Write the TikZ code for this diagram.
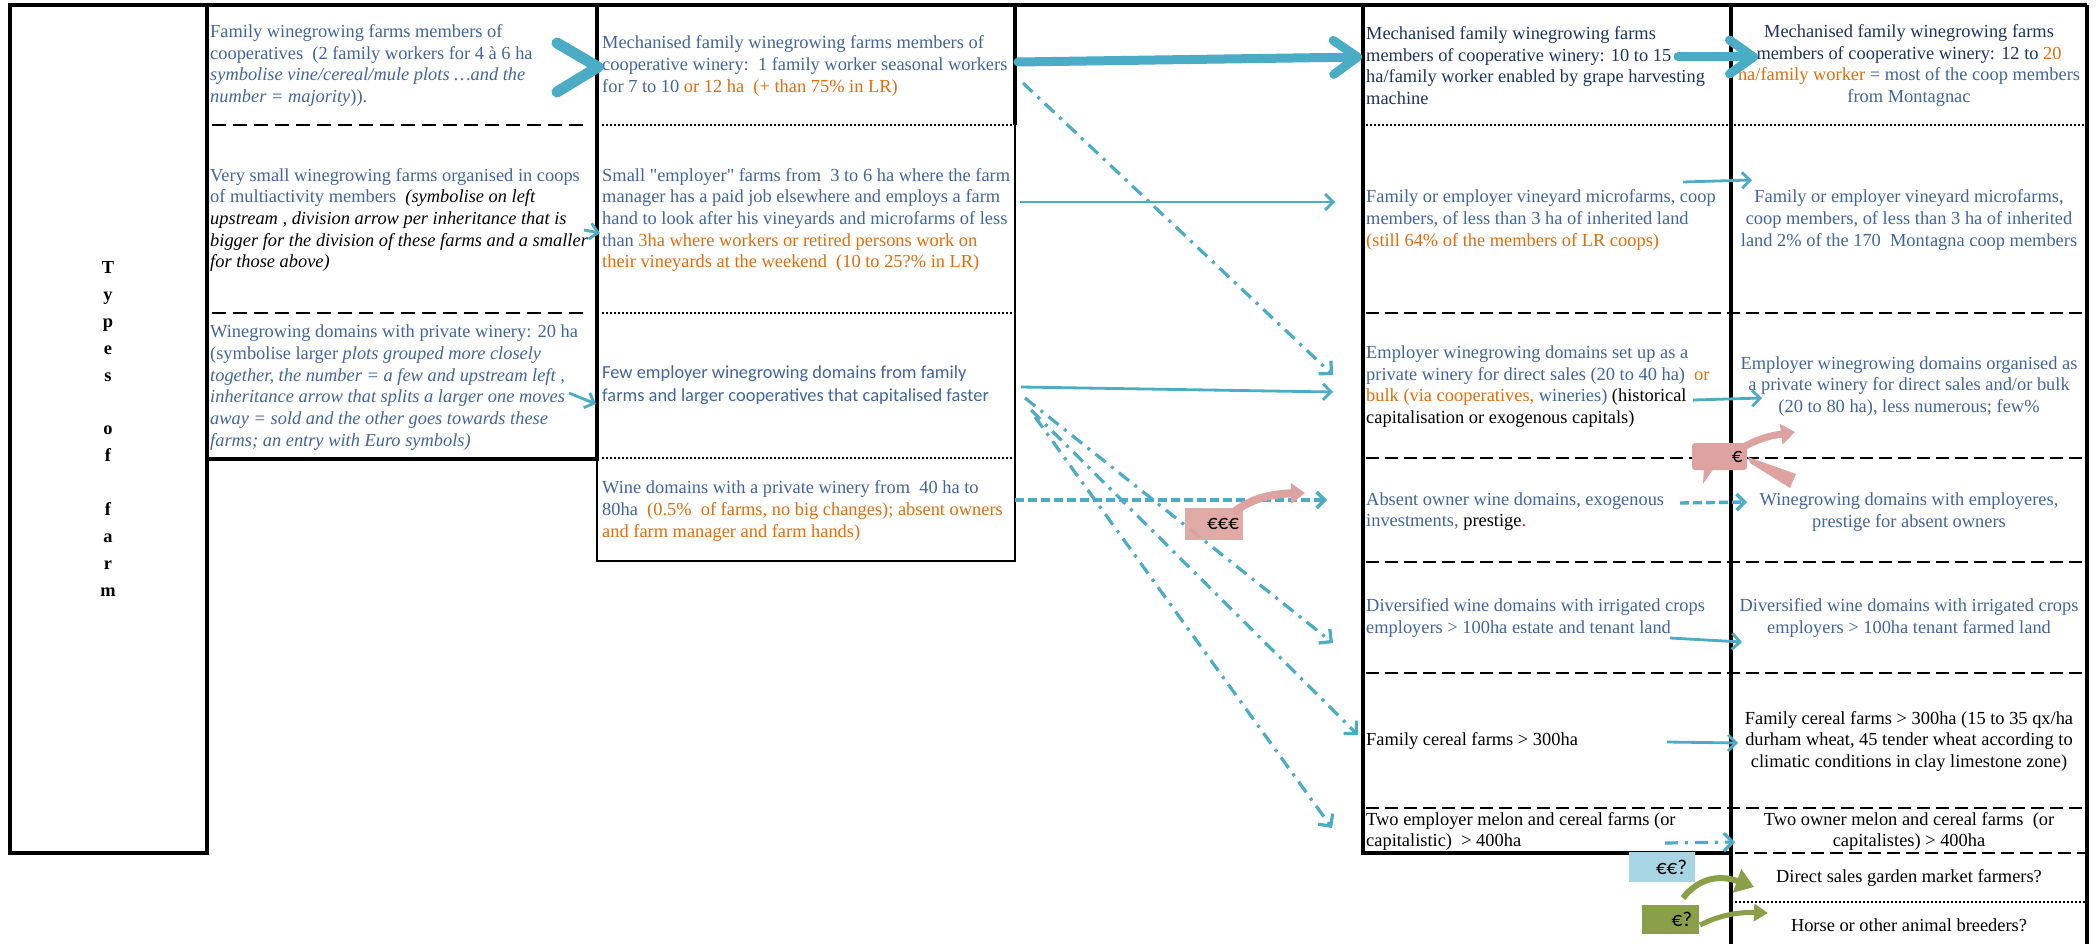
\documentclass[tikz,border=0pt]{standalone}
\usepackage{fontspec}
\setmainfont{Liberation Serif}
\newfontfamily\calib{Carlito}
\usetikzlibrary{arrows.meta}
\definecolor{tblue}{RGB}{66,101,160}
\definecolor{tnavy}{RGB}{30,52,100}
\definecolor{torange}{RGB}{228,108,10}
\definecolor{acyan}{RGB}{75,172,198}
\definecolor{epink}{RGB}{222,163,160}
\definecolor{elblue}{RGB}{168,213,228}
\definecolor{egreen}{RGB}{137,160,72}
\newcommand{\fsz}{\fontsize{18.4}{21.7}\selectfont}
\newcommand{\fsc}{\calib\fontsize{18.4}{23}\selectfont}
\newcommand{\sq}[1]{{\addfontfeature{Ligatures=TeXOff}"#1"}}
\begin{document}
\begin{tikzpicture}[x=1pt,y=-1pt,
  txt/.style={inner sep=0pt, font=\fsz, align=left, anchor=west},
  ctxt/.style={inner sep=0pt, font=\fsz, align=center},
  bordthick/.style={line width=4pt},
  bordthin/.style={line width=1.6pt},
  dashsepA/.style={line width=2.4pt, dash pattern=on 14pt off 7pt},
  dashsepB/.style={line width=2pt, dash pattern=on 13pt off 6pt},
  dotsep/.style={line width=1.6pt, dash pattern=on 1.6pt off 2.4pt},
  bigarrow/.style={acyan, line width=9pt, line cap=round, -{Straight Barb[length=24pt,width=34pt,line cap=round,line join=round]}},
  thinarrow/.style={acyan, line width=2.8pt, -{Straight Barb[length=8pt,width=16pt]}},
  dasharrow/.style={thinarrow, line width=3.4pt, dash pattern=on 9pt off 4pt},
  ddarrow/.style={acyan, line width=3.2pt, dash pattern=on 13pt off 7pt on 3pt off 7pt, -{Straight Barb[length=9pt,width=18pt]}},
  ebox/.style={inner sep=0pt, align=right, font=\calib\fontsize{21}{24}\selectfont},
  ecurve/.style={line width=7pt, -{Triangle[length=14pt,width=20pt]}}
]
\fill[white] (0,0) rectangle (2096,944);
\useasboundingbox (0,0) rectangle (2096,944);

% ---------- frame ----------
\draw[bordthick] (10,5) -- (2087,5);
\draw[bordthick] (10,5) rectangle (207,853);
\draw[bordthick] (597,5) -- (597,459) -- (207,459);
\draw[bordthick] (1015,5) -- (1015,125);
\draw[bordthin] (597,459) -- (597,561) -- (1015,561) -- (1015,125);
\draw[bordthick] (1363,5) -- (1363,853) -- (1731,853);
\draw[bordthick] (1731,5) -- (1731,944);
\draw[bordthick] (2087,5) -- (2087,944);

% ---------- separators ----------
\draw[dashsepA] (212,125) -- (589,125);
\draw[dashsepA] (212,313) -- (589,313);
\foreach \yy in {125,313,458} \draw[dotsep] (602,\yy) -- (1013,\yy);
\draw[dotsep] (1366,125) -- (2085,125);
\foreach \yy in {313,458,562,673,808} \draw[dashsepB] (1366,\yy) -- (2085,\yy);
\draw[dashsepB] (1735,853) -- (2085,853);
\draw[dotsep] (1735,902) -- (2085,902);

% ---------- Types of farm ----------
\foreach \l/\yy [count=\i] in {T/273,y/300,p/327,e/354,s/381,o/434,f/461,f/515,a/542,r/569,m/596}
  \node[font=\fsz\bfseries, anchor=base, inner sep=0pt] (tl\i) at (108,\yy) {\l};

% ---------- column 1 ----------
\node[txt, text=tblue] (c1a) at (210,65.5) {Family winegrowing farms members of\\cooperatives\ \ (2 family workers for 4 à 6 ha\\\textit{symbolise vine/cereal/mule plots …and the}\\\textit{number = majority})).};
\node[txt] (c1b) at (210,220) {\textcolor{tblue}{Very small winegrowing farms organised in coops}\\\textcolor{tblue}{of multiactivity members}\ \ \textit{(symbolise on left}\\\textit{upstream , division arrow per inheritance that is}\\\textit{bigger for the division of these farms and a smaller}\\\textit{for those above)}};
\node[txt, text=tblue] (c1c) at (210,387.5) {Winegrowing domains with private winery: 20 ha\\(symbolise larger \textit{plots grouped more closely}\\\textit{together, the number = a few and upstream left ,}\\\textit{inheritance arrow that splits a larger one moves}\\\textit{away = sold and the other goes towards these}\\\textit{farms; an entry with Euro symbols)}};

% ---------- column 2 ----------
\node[txt, text=tblue] (c2a) at (602,66) {Mechanised family winegrowing farms members of\\cooperative winery:\ \ 1 family worker seasonal workers\\for 7 to 10 \textcolor{torange}{or 12 ha\ \ (+ than 75\% in LR)}};
\node[txt, text=tblue] (c2b) at (602,220) {Small \sq{employer} farms from\ \ 3 to 6 ha where the farm\\manager has a paid job elsewhere and employs a farm\\hand to look after his vineyards and microfarms of less\\than \textcolor{torange}{3ha where workers or retired persons work on}\\\textcolor{torange}{their vineyards at the weekend\ \ (10 to 25?\% in LR)}};
\node[txt, text=tblue, font=\fsc] (c2c) at (602,385.5) {Few employer winegrowing domains from family\\farms and larger cooperatives that capitalised faster};
\node[txt, text=tblue] (c2d) at (602,511) {Wine domains with a private winery from\ \ 40 ha to\\80ha\ \ \textcolor{torange}{(0.5\%\ \ of farms, no big changes); absent owners}\\\textcolor{torange}{and farm manager and farm hands)}};

% ---------- column 3 ----------
\node[txt, text=tnavy] (c3a) at (1366,65.5) {Mechanised family winegrowing farms\\members of cooperative winery: 10 to 15\\ha/family worker enabled by grape harvesting\\machine};
\node[txt, text=tblue] (c3b) at (1366,220) {Family or employer vineyard microfarms, coop\\members, of less than 3 ha of inherited land\\\textcolor{torange}{(still 64\% of the members of LR coops)}};
\node[txt] (c3c) at (1366,386.5) {\textcolor{tblue}{Employer winegrowing domains set up as a}\\\textcolor{tblue}{private winery for direct sales (20 to 40 ha)}\ \ \textcolor{torange}{or}\\\textcolor{torange}{bulk (via cooperatives,} \textcolor{tblue}{wineries)} (historical\\capitalisation or exogenous capitals)};
\node[txt] (c3d) at (1366,511.5) {\textcolor{tblue}{Absent owner wine domains, exogenous}\\\textcolor{tblue}{investments,} prestige\textcolor{red}{.}};
\node[txt, text=tblue] (c3e) at (1366,618) {Diversified wine domains with irrigated crops\\employers > 100ha estate and tenant land};
\node[txt] (c3f) at (1366,741) {Family cereal farms > 300ha};
\node[txt] (c3g) at (1366,831.5) {Two employer melon and cereal farms (or\\capitalistic)\ \ > 400ha};

% ---------- column 4 ----------
\node[ctxt] (c4a) at (1909,65.5) {\textcolor{tnavy}{Mechanised family winegrowing farms}\\\textcolor{tnavy}{members of cooperative winery: 12 to} \textcolor{torange}{20}\\\textcolor{torange}{ha/family worker} \textcolor{tblue}{= most of the coop members}\\\textcolor{tblue}{from Montagnac}};
\node[ctxt, text=tblue] (c4b) at (1909,220) {Family or employer vineyard microfarms,\\coop members, of less than 3 ha of inherited\\land 2\% of the 170\ \ Montagna coop members};
\node[ctxt, text=tblue] (c4c) at (1909,386.5) {Employer winegrowing domains organised as\\a private winery for direct sales and/or bulk\\(20 to 80 ha), less numerous; few\%};
\node[ctxt, text=tblue] (c4d) at (1909,512) {Winegrowing domains with employeres,\\prestige for absent owners};
\node[ctxt, text=tblue] (c4e) at (1909,618) {Diversified wine domains with irrigated crops\\employers > 100ha tenant farmed land};
\node[ctxt] (c4f) at (1909,741.5) {Family cereal farms > 300ha (15 to 35 qx/ha\\durham wheat, 45 tender wheat according to\\climatic conditions in clay limestone zone)};
\node[ctxt] (c4g) at (1909,831.5) {Two owner melon and cereal farms\ \ (or\\capitalistes) > 400ha};
\node[ctxt] (c4h) at (1909,878) {Direct sales garden market farmers?};
\node[ctxt] (c4i) at (1909,925) {Horse or other animal breeders?};

% ---------- arrow end points ----------
\coordinate (ch1) at (557,43); \coordinate (ch2) at (598,67); \coordinate (ch3) at (557,92);
\coordinate (s1a) at (584,230); \coordinate (s1b) at (600,233);
\coordinate (s2a) at (569,393); \coordinate (s2b) at (596,404);
\coordinate (b1s) at (1018,62); \coordinate (b1e) at (1362,57);
\coordinate (b2s) at (1678,57); \coordinate (b2e) at (1758,57);
\coordinate (a3s) at (1020,202); \coordinate (a3e) at (1335,202);
\coordinate (a4s) at (1683,182); \coordinate (a4e) at (1752,180);
\coordinate (a5s) at (1021,387); \coordinate (a5e) at (1333,392);
\coordinate (a6s) at (1693,400); \coordinate (a6e) at (1762,398);
\coordinate (a7s) at (1015,500); \coordinate (a7e) at (1327,500);
\coordinate (a8s) at (1680,503); \coordinate (a8e) at (1747,502);
\coordinate (a9s) at (1670,638); \coordinate (a9e) at (1742,642);
\coordinate (a10s) at (1667,742); \coordinate (a10e) at (1738,743);
\coordinate (a11s) at (1665,843); \coordinate (a11e) at (1735,842);
\coordinate (d1s) at (1023,83); \coordinate (d1e) at (1333,375);
\coordinate (d2s) at (1025,398); \coordinate (d2e) at (1333,643);
\coordinate (d3s) at (1031,410); \coordinate (d3e) at (1358,735);
\coordinate (d4s) at (1035,417); \coordinate (d4e) at (1332,828);

% ---------- cyan arrows ----------
\draw[acyan, line width=11pt, line cap=round, line join=round] (ch1) -- (ch2) -- (ch3);
\draw[thinarrow] (s1a) -- (s1b);
\draw[thinarrow] (s2a) -- (s2b);
\draw[bigarrow] (b1s) -- (b1e);
\draw[bigarrow] (b2s) -- (b2e);
\draw[thinarrow] (a3s) -- (a3e);
\draw[thinarrow] (a4s) -- (a4e);
\draw[thinarrow] (a5s) -- (a5e);
\draw[thinarrow] (a6s) -- (a6e);
\draw[dasharrow] (a7s) -- (a7e);
\draw[dasharrow] (a8s) -- (a8e);
\draw[thinarrow] (a9s) -- (a9e);
\draw[thinarrow] (a10s) -- (a10e);
\draw[ddarrow] (a11s) -- (a11e);
\draw[ddarrow] (d1s) -- (d1e);
\draw[ddarrow] (d2s) -- (d2e);
\draw[ddarrow] (d3s) -- (d3e);
\draw[ddarrow] (d4s) -- (d4e);

% ---------- euro boxes ----------
\node[ebox, fill=epink, fill opacity=0.92, text opacity=1, minimum width=58pt, minimum height=32pt, text width=50pt] (eee) at (1214,524) {€€€};
\coordinate (eeeA) at (1234,512); \coordinate (eeeB) at (1305,493);
\draw[epink, ecurve, line width=8pt] (eeeA) .. controls (1252,498) and (1272,494) .. (eeeB);

\fill[epink] (1704,468) -- (1714,468) -- (1703,484) -- cycle;
\node[ebox, fill=epink, rounded corners=3pt, minimum width=55pt, minimum height=27pt, text width=46pt] (eone) at (1719.5,456.5) {€};
\coordinate (eoA) at (1740,449); \coordinate (eoB) at (1795,432);
\draw[epink, ecurve] (eoA) .. controls (1755,440) and (1768,436) .. (eoB);
\fill[epink] (1748,457) -- (1796,474) -- (1790,488) -- (1750,463) -- cycle;

\node[ebox, fill=elblue, minimum width=66pt, minimum height=30pt, text width=50pt] (eeq) at (1662,867) {€€?};
\node[ebox, fill=egreen, minimum width=57pt, minimum height=29pt, text width=43pt] (eq) at (1670.5,919.5) {€?};
\coordinate (g1A) at (1683,898); \coordinate (g1B) at (1754,887);
\coordinate (g2A) at (1700,925); \coordinate (g2B) at (1768,913);
\draw[egreen, ecurve, line width=6pt, -{Triangle[length=18pt,width=24pt]}] (g1A) .. controls (1698,879) and (1718,874) .. (g1B);
\draw[egreen, ecurve, line width=5pt, -{Triangle[length=14pt,width=17pt]}] (g2A) .. controls (1720,915) and (1738,912) .. (g2B);
\end{tikzpicture}
\end{document}
